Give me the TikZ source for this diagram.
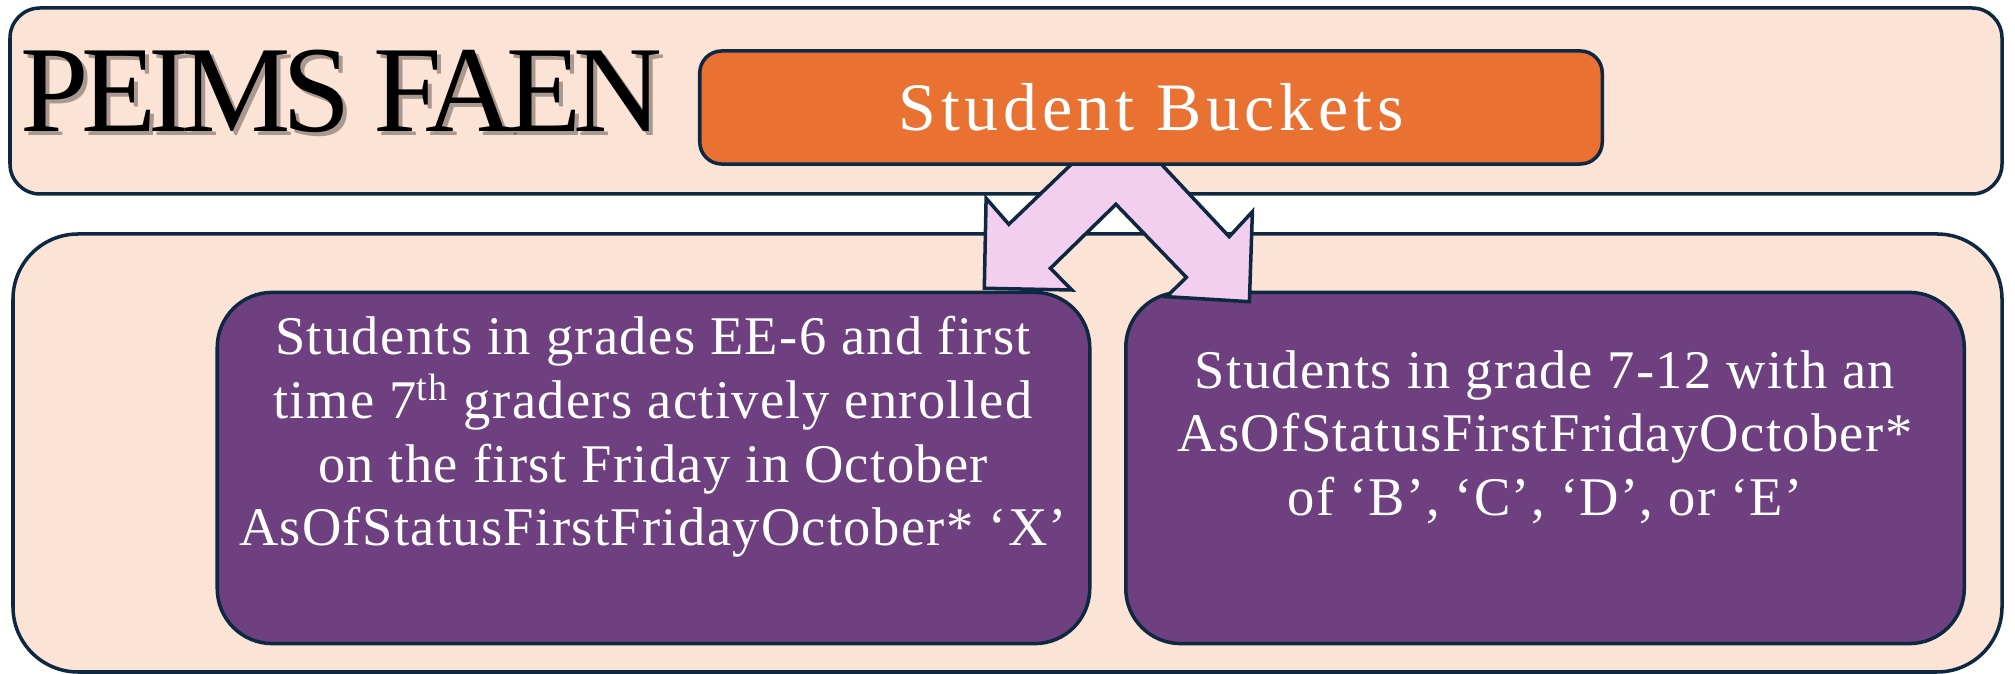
\documentclass[tikz,border=0pt]{standalone}
\usepackage{fontspec}
\setmainfont{Liberation Serif}
\definecolor{panel}{HTML}{FBE3D6}
\definecolor{edge}{HTML}{0E2841}
\definecolor{bucketorange}{HTML}{E97132}
\definecolor{grape}{HTML}{6F4080}
\definecolor{pinkarrow}{HTML}{F2CEEF}
\begin{document}
\begin{tikzpicture}[x=0.01cm,y=-0.01cm,
  panelbox/.style={draw=edge,fill=panel,line width=1pt},
  titlefont/.style={anchor=base west,inner sep=0,font=\fontsize{35}{40}\selectfont\addfontfeatures{LetterSpace=-6.5}},
  groupbox/.style={draw=edge,fill=grape,line width=1pt,rounded corners=0.55cm,minimum width=8.72cm,minimum height=3.51cm},
  grouptext/.style={text=white,align=center,font=\fontsize{15.5}{18.1}\selectfont\addfontfeatures{LetterSpace=2.5}}]
\useasboundingbox (0,0) rectangle (2015,674);
\draw[panelbox,rounded corners=0.3cm] (10,8) rectangle (2002,194);
\draw[panelbox,rounded corners=0.65cm] (13,234) rectangle (2002,672);
\node[titlefont,text=black!60!panel,opacity=.55] (titleshadow) at (24,136) {PEIMS FAEN};
\node[titlefont] (title) at (20,132) {PEIMS FAEN};
\node[groupbox] (early) at (653.5,468) {};
\node[groupbox,minimum width=8.38cm] (later) at (1545,468) {};
\node[grouptext] (earlytext) at (653,437) {Students in grades EE-6 and first\\time 7\textsuperscript{th} graders actively enrolled\\on the first Friday in October\\AsOfStatusFirstFridayOctober* `X'};
\node[grouptext] (latertext) at (1545,437) {Students in grade 7-12 with an\\AsOfStatusFirstFridayOctober*\\of `B', `C', `D', or `E'};
% split arrow
\draw[draw=edge,fill=pinkarrow,line width=1pt,line join=miter] (1075.8,160) -- (1008.8,224.3) -- (986.1,198.3) -- (984.3,288.3) -- (1071.8,290) -- (1050.4,268.3) -- (1115.9,204.3) -- (1186.3,277.3) -- (1166.7,296.7) -- (1249.4,301.7) -- (1252.4,211.7) -- (1229.2,236.7) -- (1157.4,160) -- cycle;
\node[draw=edge,fill=bucketorange,line width=1pt,rounded corners=0.22cm,minimum width=9.02cm,minimum height=1.13cm,text=white,font=\fontsize{19.3}{22}\selectfont\addfontfeatures{LetterSpace=7}] (buckets) at (1151,107.5) {Student Buckets};
\end{tikzpicture}
\end{document}
